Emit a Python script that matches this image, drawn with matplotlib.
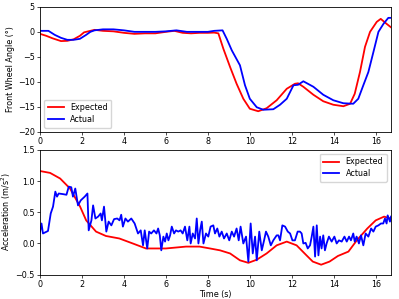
import matplotlib
matplotlib.use("Agg")
import matplotlib.pyplot as plt

# ---- Top: front wheel angle ----
t_ang_exp = [0.0, 0.3, 0.6, 1.0, 1.3, 1.6, 1.9, 2.1, 2.4, 2.6, 3.0, 3.5, 4.0, 4.5, 5.0, 5.5, 6.0, 6.4, 6.8,
             7.2, 7.6, 8.0, 8.3, 8.5, 8.74, 9.06, 9.37, 9.69, 10.0, 10.4, 10.8, 11.28, 11.76, 12.15, 12.3,
             12.55, 13.03, 13.5, 13.98, 14.46, 14.78, 15.0, 15.25, 15.49, 15.73, 16.05, 16.24, 16.52, 16.76]
ang_exp = [-0.4, -0.8, -1.3, -1.85, -1.8, -1.5, -0.8, -0.1, 0.2, 0.4, 0.2, 0.1, -0.2, -0.4, -0.3, -0.3, 0.0, 0.2, -0.2,
           -0.3, -0.2, -0.2, -0.15, -0.3, -3.4, -7.05, -10.4, -13.4, -15.4, -15.9, -15.3, -13.7, -11.4, -10.4, -10.3,
           -11.0, -12.6, -13.9, -14.6, -14.9, -14.4, -12.4, -8.05, -3.0, 0.0, 2.0, 2.6, 1.6, 0.8]

t_ang_act = [0.0, 0.4, 0.7, 1.0, 1.3, 1.6, 1.9, 2.2, 2.4, 2.6, 3.0, 3.5, 4.0, 4.5, 5.0, 5.5, 6.0, 6.5, 7.0,
             7.5, 8.0, 8.3, 8.7, 8.9, 9.14, 9.53, 9.77, 10.0, 10.33, 10.64, 11.12, 11.44, 11.76, 12.08, 12.3,
             12.55, 13.03, 13.5, 13.98, 14.46, 14.93, 15.17, 15.41, 15.65, 15.89, 16.13, 16.37, 16.6, 16.76]
ang_act = [0.2, 0.2, -0.6, -1.2, -1.6, -1.6, -1.4, -0.6, 0.0, 0.3, 0.5, 0.5, 0.3, 0.0, 0.0, 0.0, 0.1, 0.3, 0.0,
           0.0, 0.0, 0.2, 0.3, -1.4, -3.7, -6.7, -10.7, -13.4, -15.1, -15.6, -15.5, -14.6, -13.4, -10.7, -10.6,
           -9.9, -11.0, -12.6, -13.7, -14.3, -14.4, -13.4, -10.7, -8.05, -4.05, 0.0, 1.6, 2.8, 2.8]

# ---- Bottom: acceleration ----
t_acc_exp = [0.0, 0.48, 0.96, 1.43, 1.91, 2.2, 2.67, 3.14, 3.78, 4.42, 5.05, 6.0, 6.96, 7.6, 8.1, 8.58, 9.06,
             9.53, 9.93, 10.33, 10.8, 11.28, 11.76, 12.23, 12.7, 13.0, 13.4, 13.8, 14.2, 14.7, 15.1, 15.6,
             16.0, 16.4, 16.7]
acc_exp = [1.16, 1.13, 1.04, 0.88, 0.59, 0.37, 0.19, 0.12, 0.08, 0.0, -0.08, -0.08, -0.05, -0.05, -0.08, -0.11, -0.16,
           -0.27, -0.31, -0.26, -0.16, -0.03, 0.03, -0.03, -0.19, -0.29, -0.34, -0.29, -0.2, -0.13, 0.05, 0.24,
           0.37, 0.43, 0.4]

t_acc_act = [0.0, 0.07, 0.14, 0.38, 0.51, 0.62, 0.73, 0.81, 0.89, 1.1, 1.26, 1.37, 1.49, 1.57, 1.68, 1.81, 1.94,
             2.13, 2.26, 2.32, 2.45, 2.53, 2.64, 2.77, 2.89, 2.95, 3.05, 3.16, 3.27, 3.4, 3.53, 3.68, 3.79, 3.87,
             3.95, 4.07, 4.19, 4.35, 4.51, 4.67, 4.8, 4.91, 4.99, 5.11, 5.2, 5.3, 5.43, 5.55, 5.63, 5.71, 5.78,
             5.88, 5.96, 6.04, 6.12, 6.2, 6.28, 6.39, 6.48, 6.59, 6.7, 6.8, 6.91, 7.02, 7.12, 7.18, 7.28, 7.39,
             7.47, 7.55, 7.63, 7.71, 7.79, 7.91, 8.02, 8.13, 8.26, 8.34, 8.45, 8.55, 8.66, 8.77, 8.9, 9.02, 9.14,
             9.25, 9.37, 9.47, 9.56, 9.69, 9.82, 9.93, 10.04, 10.14, 10.25, 10.33, 10.45, 10.57, 10.68, 10.77,
             10.88, 11.0, 11.12, 11.28, 11.36, 11.44, 11.55, 11.68, 11.81, 11.92, 12.03, 12.15, 12.28, 12.39,
             12.47, 12.55, 12.66, 12.76, 12.87, 12.95, 13.03, 13.11, 13.19, 13.27, 13.35, 13.42, 13.5, 13.58,
             13.66, 13.77, 13.9, 14.03, 14.14, 14.25, 14.38, 14.51, 14.62, 14.73, 14.82, 14.93, 15.0, 15.09,
             15.2, 15.3, 15.41, 15.52, 15.65, 15.78, 15.89, 16.0, 16.13, 16.25, 16.36, 16.44, 16.52, 16.57,
             16.68, 16.73]
acc_act = [0.19, 0.32, 0.16, 0.2, 0.48, 0.59, 0.83, 0.75, 0.8, 0.79, 0.78, 0.91, 0.9, 0.75, 0.88, 0.61, 0.69,
           0.75, 0.8, 0.21, 0.37, 0.61, 0.4, 0.43, 0.48, 0.37, 0.59, 0.19, 0.35, 0.29, 0.39, 0.4, 0.37, 0.46,
           0.27, 0.4, 0.35, 0.4, 0.32, 0.16, 0.21, -0.03, 0.21, -0.08, 0.19, 0.16, 0.21, 0.16, 0.24, 0.13, -0.11,
           0.11, 0.03, 0.16, 0.05, 0.13, 0.27, 0.16, 0.21, 0.19, 0.21, 0.16, 0.27, 0.05, 0.27, 0.0, 0.16, 0.08,
           0.4, 0.0, 0.21, 0.35, 0.0, 0.16, 0.11, 0.27, 0.29, 0.16, 0.24, 0.11, 0.19, 0.08, 0.16, 0.05, 0.19,
           0.11, 0.24, 0.05, 0.27, 0.0, 0.11, -0.29, 0.32, -0.16, 0.11, -0.27, 0.19, -0.11, 0.05, 0.19,
           0.11, -0.03, 0.05, 0.13, 0.13, 0.05, 0.29, 0.27, 0.19, 0.16, 0.05, 0.05, 0.19, 0.19,
           0.16, 0.0, 0.01, -0.08, -0.03, 0.11, 0.27, -0.21, 0.29, -0.19, 0.11, -0.08, 0.13, -0.11,
           0.0, 0.11, 0.03, 0.11, 0.0, 0.05, 0.03, 0.11, 0.03, 0.11, 0.05, 0.16, 0.03, 0.11,
           0.0, 0.13, -0.03, 0.16, 0.11, 0.24, 0.19, 0.27, 0.29, 0.32, 0.32, 0.4, 0.32, 0.45,
           0.35, 0.43]

xticks = [0, 2, 4, 6, 8, 10, 12, 14, 16]
ang_yticks = [5, 0, -5, -10, -15, -20]
acc_yticks = [-0.5, 0.0, 0.5, 1.0, 1.5]

FS = 5.8
plt.rcParams['font.size'] = FS
plt.rcParams['axes.linewidth'] = 0.6
plt.rcParams['xtick.major.size'] = 2.0
plt.rcParams['ytick.major.size'] = 2.0
plt.rcParams['xtick.major.width'] = 0.5
plt.rcParams['ytick.major.width'] = 0.5
plt.rcParams['xtick.major.pad'] = 1.8
plt.rcParams['ytick.major.pad'] = 1.8

fig = plt.figure(figsize=(3.99, 2.99), dpi=100)
ax1 = fig.add_axes([0.1003, 0.5595, 0.8797, 0.4175])
ax2 = fig.add_axes([0.1003, 0.0813, 0.8797, 0.4177])

LW = 1.3
ax1.plot(t_ang_exp, ang_exp, color='red', lw=LW, label='Expected')
ax1.plot(t_ang_act, ang_act, color='blue', lw=LW, label='Actual')
ax1.set_xlim(0, 16.73)
ax1.set_ylim(-20, 5)
ax1.set_xticks(xticks)
ax1.set_yticks(ang_yticks)
ax1.set_ylabel('Front Wheel Angle (°)', labelpad=2)
ax1.legend(loc='lower left', fontsize=FS, handlelength=2.0, borderpad=0.45, labelspacing=0.35,
           framealpha=0.8, fancybox=True)

ax2.plot(t_acc_exp, acc_exp, color='red', lw=LW, label='Expected')
ax2.plot(t_acc_act, acc_act, color='blue', lw=LW, label='Actual')
ax2.set_xlim(0, 16.73)
ax2.set_ylim(-0.5, 1.5)
ax2.set_xticks(xticks)
ax2.set_yticks(acc_yticks)
ax2.set_ylabel('Acceleration (m/s$^2$)', labelpad=2)
ax2.set_xlabel('Time (s)', labelpad=1)
ax2.legend(loc='upper right', fontsize=FS, handlelength=2.0, borderpad=0.45, labelspacing=0.35,
           framealpha=0.8, fancybox=True)

fig.savefig('out.png', dpi=100)
